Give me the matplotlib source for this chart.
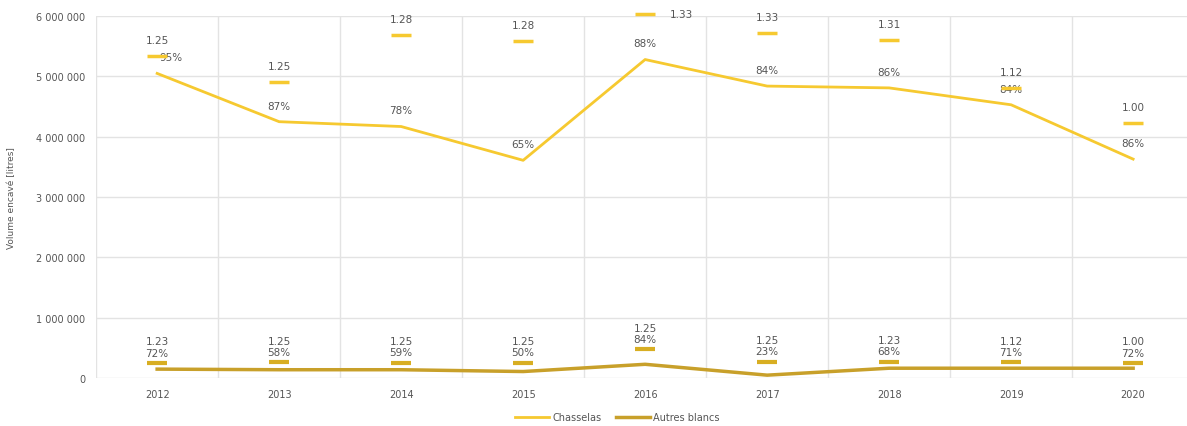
import matplotlib.pyplot as plt
from matplotlib.ticker import FuncFormatter, MultipleLocator

annees = ["2012", "2013", "2014", "2015", "2016", "2017", "2018", "2019", "2020"]

# volumes encavés (litres)
chasselas = [5050000, 4250000, 4170000, 3610000, 5280000, 4840000, 4810000, 4530000, 3630000]
autres_blancs = [150000, 140000, 140000, 110000, 230000, 50000, 165000, 165000, 165000]

# repères de prix (tirets) et leurs étiquettes
chasselas_prix_pos = [5340000, 4910000, 5690000, 5590000, 6040000, 5720000, 5600000, 4810000, 4230000]
chasselas_prix = ["1.25", "1.25", "1.28", "1.28", "1.33", "1.33", "1.31", "1.12", "1.00"]
chasselas_pct = ["95%", "87%", "78%", "65%", "88%", "84%", "86%", "84%", "86%"]

autres_prix_pos = [250000, 265000, 255000, 255000, 480000, 270000, 270000, 260000, 250000]
autres_prix = ["1.23", "1.25", "1.25", "1.25", "1.25", "1.25", "1.23", "1.12", "1.00"]
autres_pct = ["72%", "58%", "59%", "50%", "84%", "23%", "68%", "71%", "72%"]

COL_CHAS = "#F6C930"
COL_AUTRES = "#C8A02A"
TXT = "#555555"

fig = plt.figure(figsize=(11.87, 4.27), dpi=100)
ax = fig.add_axes([0.081, 0.112, 0.925, 0.848])

x = list(range(len(annees)))

ax.plot(x, chasselas, color=COL_CHAS, lw=2, label="Chasselas", zorder=3)
ax.plot(x, autres_blancs, color=COL_AUTRES, lw=2.5, label="Autres blancs", zorder=3)

ax.plot(x, chasselas_prix_pos, ls="none", marker="_", ms=15, mew=2.5,
        color=COL_CHAS, clip_on=False, zorder=4)
ax.plot(x, autres_prix_pos, ls="none", marker="_", ms=15, mew=3,
        color="#D8AE22", zorder=4)

for i in x:
    # prix au-dessus du tiret, pourcentage au-dessus de la courbe
    if i == 4:
        ax.annotate(chasselas_prix[i], (i, chasselas_prix_pos[i]), xytext=(18, 0),
                    textcoords="offset points", ha="left", va="center",
                    fontsize=7.5, color=TXT, annotation_clip=False)
    else:
        ax.annotate(chasselas_prix[i], (i, chasselas_prix_pos[i]), xytext=(0, 8),
                    textcoords="offset points", ha="center", va="bottom",
                    fontsize=7.5, color=TXT, annotation_clip=False)
    dx = 10 if i == 0 else 0
    ax.annotate(chasselas_pct[i], (i, chasselas[i]), xytext=(dx, 8),
                textcoords="offset points", ha="center", va="bottom",
                fontsize=7.5, color=TXT)

    ax.annotate(autres_pct[i], (i, autres_prix_pos[i]), xytext=(0, 4),
                textcoords="offset points", ha="center", va="bottom",
                fontsize=7.5, color=TXT)
    ax.annotate(autres_prix[i], (i, autres_prix_pos[i]), xytext=(0, 12),
                textcoords="offset points", ha="center", va="bottom",
                fontsize=7.5, color=TXT)

ax.set_xlim(-0.5, len(annees) - 0.5)
ax.set_ylim(0, 6000000)
ax.set_xticks(x)
ax.set_xticklabels(annees)
ax.xaxis.set_minor_locator(MultipleLocator(1, offset=0.5))
ax.yaxis.set_major_locator(MultipleLocator(1000000))
ax.yaxis.set_major_formatter(FuncFormatter(lambda v, p: f"{int(v):,}".replace(",", " ")))

ax.grid(axis="y", which="major", color="#E3E3E3", lw=1)
ax.grid(axis="x", which="minor", color="#E3E3E3", lw=1)
ax.set_axisbelow(True)
ax.tick_params(which="both", length=0, labelsize=7, colors=TXT, pad=8)
for s in ax.spines.values():
    s.set_visible(False)

ax.set_ylabel("Volume encavé [litres]", fontsize=6.5, color=TXT, labelpad=14)

fig.legend(loc="lower center", bbox_to_anchor=(0.52, -0.012), ncol=2, frameon=False,
           fontsize=7, handlelength=3.5, columnspacing=1.5, handletextpad=0.3,
           labelcolor=TXT)

plt.savefig("out.png", dpi=100)
